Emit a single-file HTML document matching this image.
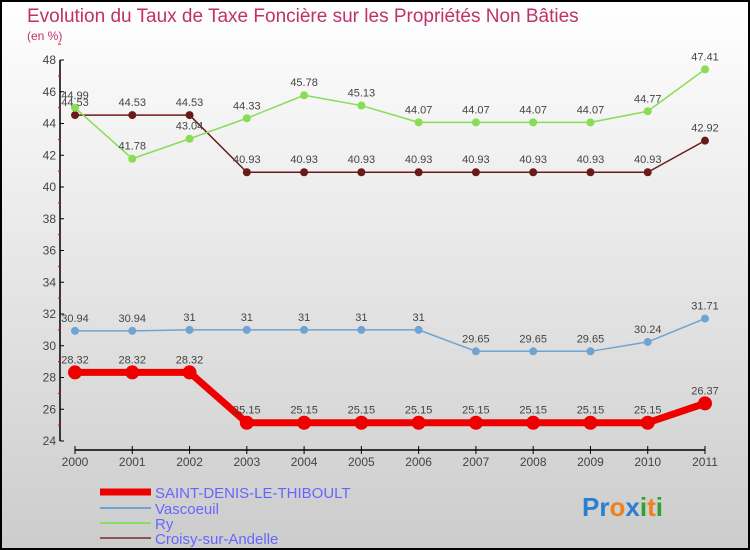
<!DOCTYPE html>
<html><head><meta charset="utf-8"><style>
body{margin:0;width:750px;height:550px;overflow:hidden}
svg{display:block;font-family:"Liberation Sans",sans-serif}
</style></head><body>
<svg width="750" height="550" id="chart">
<defs><linearGradient id="bg" x1="0" y1="0" x2="0" y2="1"><stop offset="0" stop-color="#ffffff"/><stop offset="1" stop-color="#cccccc"/></linearGradient></defs>
<rect x="1" y="1" width="748" height="548" fill="url(#bg)" stroke="#000" stroke-width="2"/>
<text x="27" y="22" font-size="19" fill="#c0306a">Evolution du Taux de Taxe Foncière sur les Propriétés Non Bâties</text>
<text x="27" y="40" font-size="12" fill="#c0306a">(en %)</text>
<g id="axes"></g><g id="series"></g>
<g>
<line x1="100" y1="492" x2="151" y2="492" stroke="#ee0000" stroke-width="7"/>
<text x="155" y="498" font-size="15" fill="#6666ff">SAINT-DENIS-LE-THIBOULT</text>
<line x1="100" y1="508" x2="151" y2="508" stroke="#6fa3d1" stroke-width="2"/>
<text x="155" y="514" font-size="15" fill="#6666ff">Vascoeuil</text>
<line x1="100" y1="523" x2="151" y2="523" stroke="#88dd66" stroke-width="2"/>
<text x="155" y="529" font-size="15" fill="#6666ff">Ry</text>
<line x1="100" y1="538" x2="151" y2="538" stroke="#8a5555" stroke-width="2"/>
<text x="155" y="544" font-size="15" fill="#6666ff">Croisy-sur-Andelle</text>
</g>
<text x="582" y="516" font-size="26" font-weight="bold"><tspan fill="#2a7fd0">Pr</tspan><tspan fill="#f08020">o</tspan><tspan fill="#2a7fd0">x</tspan><tspan fill="#30a030">i</tspan><tspan fill="#f08020">t</tspan><tspan fill="#30a030">i</tspan></text>
</svg>
<script>
const years=["2000","2001","2002","2003","2004","2005","2006","2007","2008","2009","2010","2011"];
const yTicks=[24,26,28,30,32,34,36,38,40,42,44,46,48];
const saintDenis=[28.32,28.32,28.32,25.15,25.15,25.15,25.15,25.15,25.15,25.15,25.15,26.37];
const vascoeuil=[30.94,30.94,31,31,31,31,31,29.65,29.65,29.65,30.24,31.71];
const ry=[44.99,41.78,43.04,44.33,45.78,45.13,44.07,44.07,44.07,44.07,44.77,47.41];
const croisy=[44.53,44.53,44.53,40.93,40.93,40.93,40.93,40.93,40.93,40.93,40.93,42.92];
const NS="http://www.w3.org/2000/svg";
const X=i=>75+i*(630/11);
const Y=v=>441-(v-24)*(381/24);
function mk(t,a,p){const e=document.createElementNS(NS,t);for(const k in a)e.setAttribute(k,a[k]);p.appendChild(e);return e;}
const ax=document.getElementById('axes'),sg=document.getElementById('series');
mk('line',{x1:60,y1:Y(48),x2:60,y2:Y(24),stroke:'#000','stroke-width':1.5},ax);
mk('line',{x1:75,y1:450,x2:705,y2:450,stroke:'#000','stroke-width':1.5},ax);
yTicks.forEach(v=>{
 mk('line',{x1:60,y1:Y(v),x2:64,y2:Y(v),stroke:'#000'},ax);
 mk('line',{x1:58,y1:Y(v+1),x2:61,y2:Y(v+1),stroke:'#e00'},ax);
 const t=mk('text',{x:56,y:Y(v)+4,'text-anchor':'end','font-size':12,fill:'#444'},ax);
 
 
 t.textContent=v;
});
years.forEach((y,i)=>{
 mk('line',{x1:X(i),y1:446,x2:X(i),y2:454,stroke:'#000'},ax);
 const t=mk('text',{x:X(i),y:466,'text-anchor':'middle','font-size':12,fill:'#444'},ax);
 
 
 t.textContent=y;
});
function series(d,color,w,r,name){
 const g=mk('g',{},sg);
 
 
 mk('polyline',{points:d.map((v,i)=>X(i)+','+Y(v)).join(' '),fill:'none',stroke:color,'stroke-width':w,'stroke-linejoin':'round'},g);
 d.forEach((v,i)=>{
  const c=mk('circle',{cx:X(i),cy:Y(v),r:r,fill:color},g);
  
  
  const t=mk('text',{x:X(i),y:Y(v)-9,'text-anchor':'middle','font-size':11,fill:'#444'},g);
  
  
  t.textContent=String(v);
 });
}
series(croisy,'#6b1a1a',1.5,4,'croisy-line');
series(ry,'#88dd55',1.5,4,'ry-line');
series(vascoeuil,'#6fa3d1',1.5,4,'vascoeuil-line');
series(saintDenis,'#ee0000',7,7,'saint-denis-line');
</script>
</body></html>
